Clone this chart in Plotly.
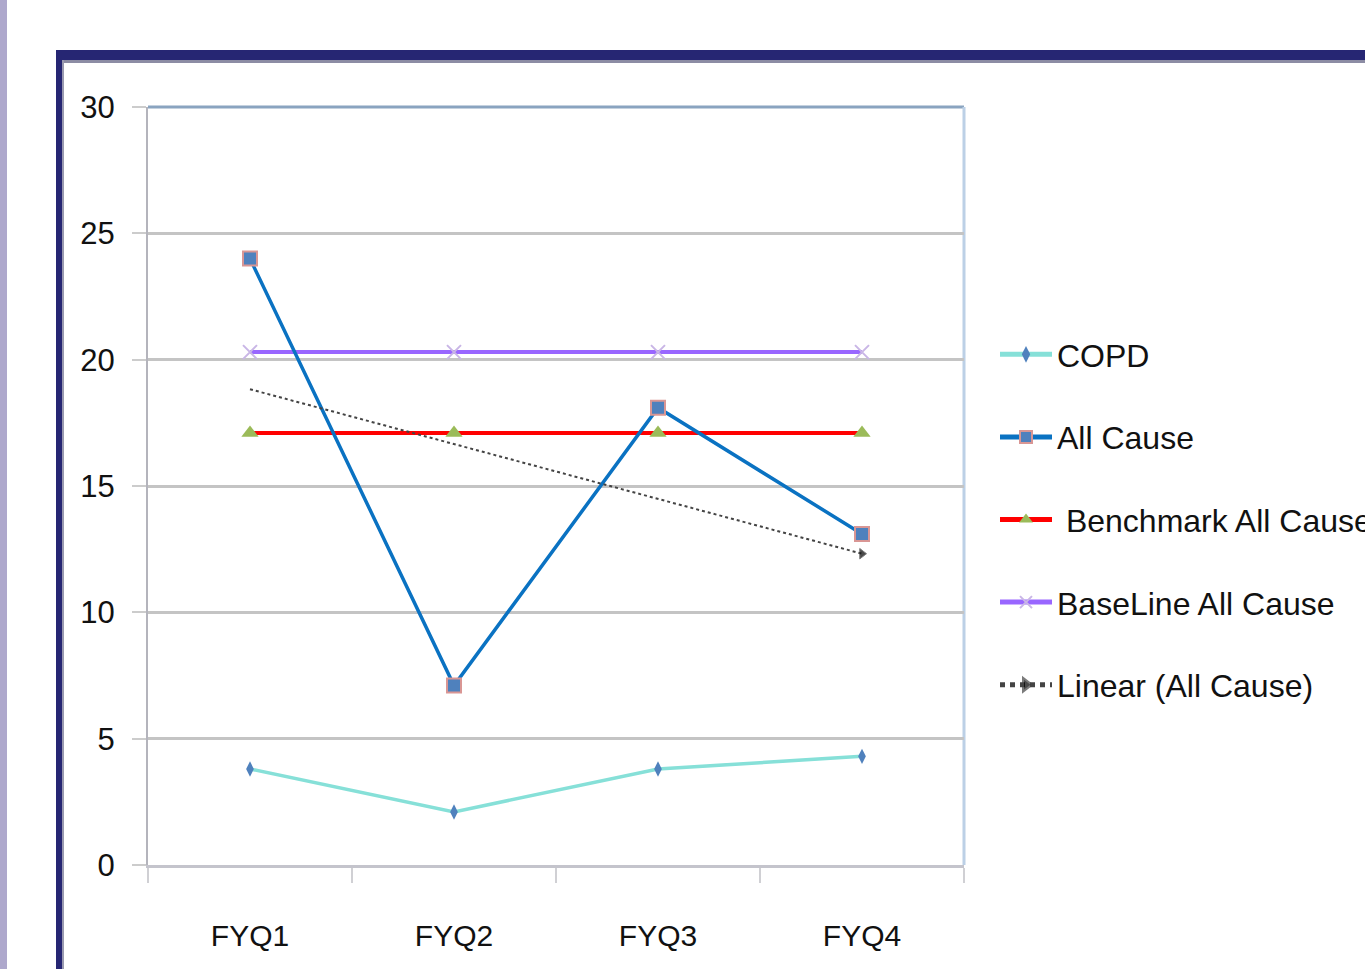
import numpy as np
import plotly.graph_objects as go

categories = ["FYQ1", "FYQ2", "FYQ3", "FYQ4"]
copd = [3.8, 2.1, 3.8, 4.3]
all_cause = [24.0, 7.1, 18.1, 13.1]
benchmark = [17.1, 17.1, 17.1, 17.1]
baseline = [20.3, 20.3, 20.3, 20.3]
y_ticks = [0, 5, 10, 15, 20, 25, 30]

# linear trend of All Cause (as Excel's "Linear" trendline)
xi = np.arange(len(categories))
slope, intercept = np.polyfit(xi, all_cause, 1)
trend = list(slope * xi + intercept)

FONT = "Liberation Sans, Arial, sans-serif"

# plot area in pixels
L, R, T, B = 148, 964, 107, 865
W, H = 1365, 969


def px(xp):
    return (xp - L) / (R - L)


def py(yp):
    return (B - yp) / (B - T)


fig = go.Figure()

fig.add_trace(go.Scatter(
    x=categories, y=copd, name="COPD", mode="lines+markers",
    line=dict(color="#86e0d8", width=3.5),
    marker=dict(symbol="diamond-tall", size=11, color="#4f81bd"),
    legendrank=1, legendgroup="a"))
fig.add_trace(go.Scatter(
    x=categories, y=benchmark, name="\u00a0Benchmark All Cause", mode="lines+markers",
    line=dict(color="#ff0000", width=4),
    marker=dict(symbol="triangle-up", size=15, color="#9bbb59"),
    legendrank=3, legendgroup="c"))
fig.add_trace(go.Scatter(
    x=categories, y=baseline, name="BaseLine All Cause", mode="lines+markers",
    line=dict(color="#9966ff", width=4),
    marker=dict(symbol="x-thin", size=14, color="#c9b6e6",
                line=dict(color="#c9b6e6", width=2)),
    legendrank=4, legendgroup="d"))
fig.add_trace(go.Scatter(
    x=categories, y=all_cause, name="All Cause", mode="lines+markers",
    line=dict(color="#0a72c2", width=3.5),
    marker=dict(symbol="square", size=14, color="#4f81bd",
                line=dict(color="#d99694", width=2)),
    legendrank=2, legendgroup="b"))
fig.add_trace(go.Scatter(
    x=categories, y=trend, name="Linear (All Cause)", mode="lines+markers",
    line=dict(color="#444444", width=2, dash="dot"),
    marker=dict(symbol="triangle-right", size=[0, 0, 0, 9], color="#000000"),
    legendrank=5, legendgroup="e"))

shapes = []
# lavender strip at far left
shapes.append(dict(type="rect", xref="paper", yref="paper",
                   x0=px(0), x1=px(7), y0=py(1100), y1=py(-50),
                   fillcolor="#aea8cc", line_width=0, layer="below"))
# navy frame (top and left)
shapes.append(dict(type="rect", xref="paper", yref="paper",
                   x0=px(56), x1=px(1500), y0=py(60), y1=py(50),
                   fillcolor="#262673", line_width=0, layer="below"))
shapes.append(dict(type="rect", xref="paper", yref="paper",
                   x0=px(56), x1=px(62), y0=py(1100), y1=py(50),
                   fillcolor="#262673", line_width=0, layer="below"))
shapes.append(dict(type="rect", xref="paper", yref="paper",
                   x0=px(62), x1=px(1500), y0=py(63), y1=py(60),
                   fillcolor="#8c8ca4", line_width=0, layer="below"))
shapes.append(dict(type="rect", xref="paper", yref="paper",
                   x0=px(62), x1=px(64), y0=py(1100), y1=py(60),
                   fillcolor="#9a9ab0", line_width=0, layer="below"))
# plot-area top border and right border
shapes.append(dict(type="line", xref="paper", yref="paper",
                   x0=0, x1=1, y0=1, y1=1,
                   line=dict(color="#8aa4c0", width=3), layer="below"))
shapes.append(dict(type="line", xref="paper", yref="paper",
                   x0=1, x1=1, y0=0, y1=1,
                   line=dict(color="#bcd0e6", width=3), layer="below"))

fig.update_layout(
    width=W, height=H,
    margin=dict(l=L, r=W - R, t=T, b=H - B, autoexpand=False),
    paper_bgcolor="white", plot_bgcolor="white",
    font=dict(family=FONT, size=31, color="#111111"),
    shapes=shapes,
    showlegend=True,
    legend=dict(
        x=px(995), y=py(327), xanchor="left", yanchor="top",
        font=dict(family=FONT, size=32, color="#111111"),
        tracegroupgap=38, itemsizing="constant", itemwidth=52,
        bgcolor="rgba(0,0,0,0)", borderwidth=0,
    ),
    xaxis=dict(
        type="category", categoryorder="array", categoryarray=categories,
        range=[-0.5, len(categories) - 0.5],
        showline=True, linecolor="#c4c4cc", linewidth=3,
        ticks="outside", tickson="boundaries", ticklen=15,
        tickcolor="#d0d0d4", tickwidth=2,
        showgrid=False, ticklabelstandoff=42,
        tickfont=dict(family=FONT, size=30, color="#111111"),
    ),
    yaxis=dict(
        range=[0, 30], tickvals=y_ticks,
        showline=True, linecolor="#b4b4bc", linewidth=2,
        ticks="outside", ticklen=14, tickcolor="#cccccc", tickwidth=2,
        showgrid=True, gridcolor="#c4c4c4", gridwidth=3,
        zeroline=False, ticklabelstandoff=11,
        tickfont=dict(family=FONT, size=31, color="#111111"),
    ),
)

fig.write_html("out.html",
               config={"displayModeBar": False},
               post_script="document.body.style.margin='0';document.body.style.overflow='hidden';")
